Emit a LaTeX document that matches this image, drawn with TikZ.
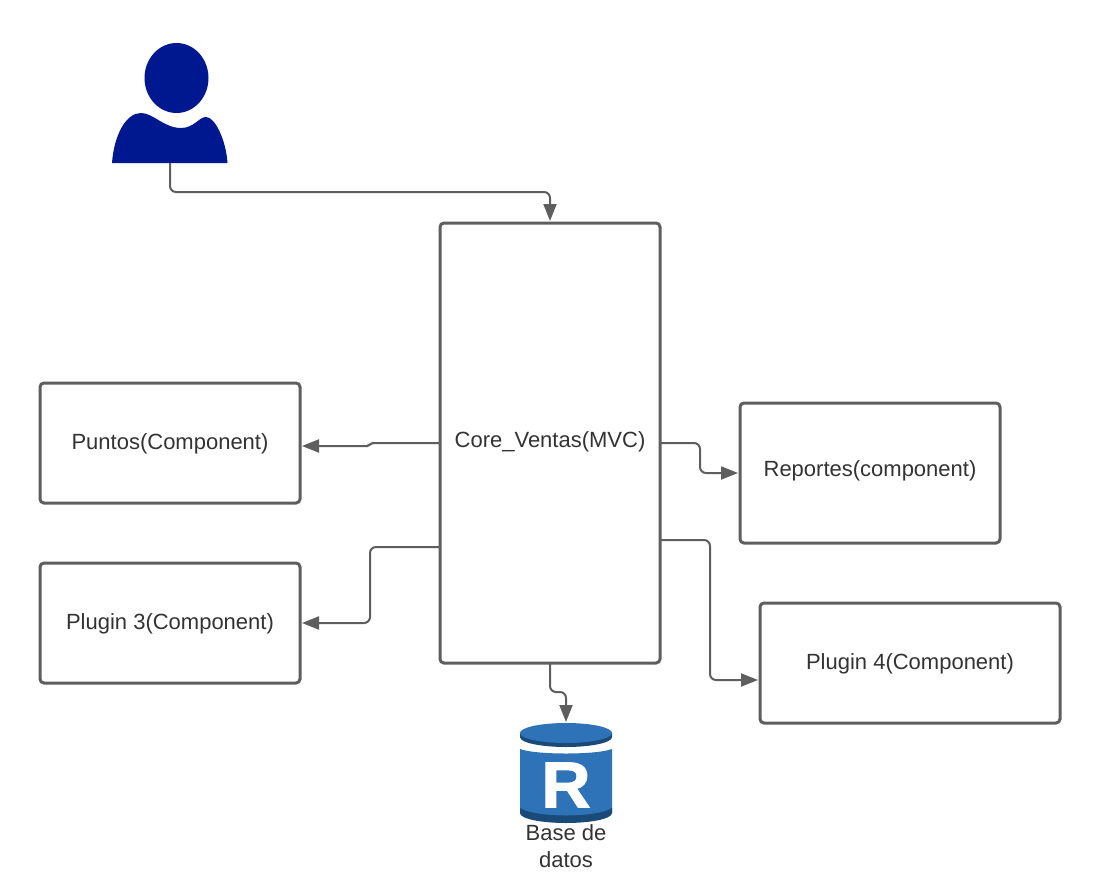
\documentclass[tikz,border=0pt]{standalone}
\usepackage{fontspec}
\setmainfont{Liberation Sans}
\newfontfamily\iconfont[FakeBold=1.5]{Liberation Sans Bold}
\usetikzlibrary{arrows.meta,positioning,shapes}
\definecolor{linegray}{HTML}{5E5E5E}
\definecolor{textgray}{HTML}{333333}
\definecolor{userblue}{HTML}{00188F}
\definecolor{dbblue}{HTML}{2E73B8}
\definecolor{dbdark}{HTML}{1A4A78}
\tikzset{
  box/.style={draw=linegray,line width=3pt,rounded corners=4pt,fill=white,outer sep=0pt,inner sep=0pt,
    text=textgray,font=\fontsize{22}{27}\selectfont,align=center,text height=18pt,text depth=5pt},
  conn/.style={draw=linegray,line width=2pt,rounded corners=6pt,shorten >=2pt,
    -{Triangle[length=17pt,width=13pt]}}
}
\begin{document}
\begin{tikzpicture}[x=1pt,y=-1pt]
\useasboundingbox (0,0) rectangle (1100,883);
% boxes
\node[box,minimum width=220pt,minimum height=440pt] (core) at (550,443) {};
\node[textgray,font=\fontsize{22}{27}\selectfont] (corelabel) at (550,442) {Core\_Ventas(MVC)};
\node[box,minimum width=260pt,minimum height=120pt] (puntos) at (170,443) {Puntos(Component)};
\node[box,minimum width=260pt,minimum height=120pt] (plugin3) at (170,623) {Plugin 3(Component)};
\node[box,minimum width=260pt,minimum height=140pt] (reportes) at (870,473) {};
\node[textgray,font=\fontsize{22}{27}\selectfont] (reporteslabel) at (870,471) {Reportes(component)};
\node[box,minimum width=300pt,minimum height=120pt] (plugin4) at (910,663) {Plugin 4(Component)};
% user
\fill[userblue] (176.5,78) ellipse (32 and 35);
\fill[userblue] (112,163) .. controls (114,135) and (126,113) .. (141,113)
  .. controls (153,113) and (164,128) .. (181,128)
  .. controls (194,128) and (199,117) .. (206,117)
  .. controls (215,117) and (226,140) .. (227.5,163) -- cycle;
\coordinate (user) at (170,163);
% database
\fill[dbblue] (520,749) .. controls (535,755) and (597,755) .. (612,749) -- (612,813)
  .. controls (597,823) and (535,823) .. (520,813) -- cycle;
\fill[dbdark] (520,808) .. controls (535,818) and (597,818) .. (612,808) -- (612,813)
  .. controls (612,819) and (590,823) .. (566,823) .. controls (542,823) and (520,819) .. (520,813) -- cycle;
\fill[dbdark] (520,733) -- (612,733) -- (612,737)
  .. controls (612,743) and (590,747) .. (566,747) .. controls (542,747) and (520,743) .. (520,737) -- cycle;
\fill[dbblue] (566,733) ellipse (46 and 10);
\node[text=white,font=\fontsize{65}{65}\iconfont,inner sep=0pt,xscale=1.05] (dbicon) at (566,785) {R};
\coordinate (db) at (566,724);
\node[text=textgray,font=\fontsize{22}{27}\selectfont,align=center,inner sep=0pt] (dblabel) at (566,846) {Base de\\datos};
% ports on the core box
\coordinate (p1) at (440,443);
\coordinate (p2) at (440,547);
\coordinate (p3) at (660,443);
\coordinate (p4) at (660,540);
\coordinate (p5) at (300,446);
\coordinate (p6) at (740,473);
\coordinate (p7) at (760,680);
\coordinate (p8) at (550,663);
% connectors
\draw[conn] (user) -- (170,192) -- (550,192) -- (core.north);
\draw[conn,rounded corners=2pt] (p1) -- (371,443) -- (369,446) -- (p5);
\draw[conn] (p2) -- (370,547) -- (370,623) -- (plugin3.east);
\draw[conn] (p3) -- (700,443) -- (700,473) -- (p6);
\draw[conn] (p4) -- (710,540) -- (710,680) -- (p7);
\draw[conn] (p8) -- (550,692) -- (566,692) -- (db);
\end{tikzpicture}
\end{document}
